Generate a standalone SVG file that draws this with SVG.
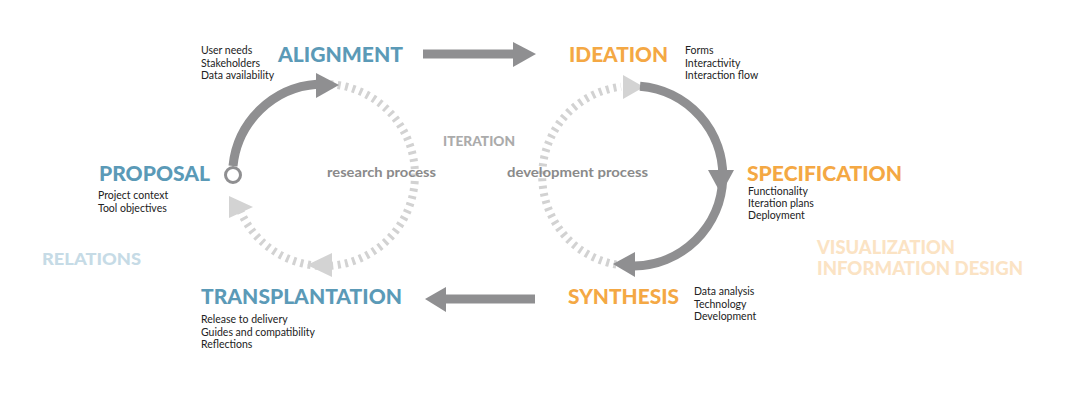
<svg xmlns="http://www.w3.org/2000/svg" width="1080" height="401" viewBox="0 0 1080 401">
<style>
.h{font-family:Lato,"Open Sans","Liberation Sans",sans-serif;font-weight:900;font-size:20px}
.blue{fill:#5b9ab7}
.orange{fill:#f4a844}
.s{font-family:Lato,"Open Sans","Liberation Sans",sans-serif;font-size:10.5px;fill:#222}
.p{font-family:Lato,"Open Sans","Liberation Sans",sans-serif;font-weight:700;font-size:13px;fill:#8a8a8a}
.solid{fill:none;stroke:#8f8f91;stroke-width:9}
.dot{fill:none;stroke:#d2d2d2;stroke-width:8;stroke-dasharray:3 4.5}
.ah{fill:#8f8f91}
.al{fill:#d3d3d3}
</style>
<rect width="1080" height="401" fill="#fff"/>
<g id="connectors">
  <rect x="423" y="49.5" width="92" height="9" class="ah"/>
  <polygon points="513,42 536,54 513,67" class="ah"/>
  <rect x="444" y="294.5" width="91" height="9" class="ah"/>
  <polygon points="446,287 425,299 446,312" class="ah"/>
  <path d="M330.3 84.2 A91 91 0 1 1 239.6 209.1" class="dot"/>
  <polygon points="307,265 332,253 332,277" class="al"/>
  <polygon points="229,196 229,218 253,207" class="al"/>
  <path d="M233 166 A91 91 0 0 1 317 84.3" class="solid"/>
  <polygon points="316,73 339,85 316,98" class="ah"/>
  <circle cx="233" cy="175" r="7.5" fill="#fff" stroke="#8f8f91" stroke-width="3"/>
  <path d="M616.4 264.6 A90 90 0 0 1 621 86.7" class="dot"/>
  <polygon points="623,75 644,87 623,99" class="al"/>
  <path d="M640 86.3 A90 90 0 0 1 634 266" class="solid"/>
  <polygon points="708,170 734,170 721,194" class="ah"/>
  <polygon points="613,264 635,252 635,277" class="ah"/>
</g>
<g id="alignment">
  <text x="278" y="62" class="h blue" textLength="125" lengthAdjust="spacingAndGlyphs">ALIGNMENT</text>
  <text class="s"><tspan x="201" y="54">User needs</tspan><tspan x="201" y="67">Stakeholders</tspan><tspan x="201" y="79">Data availability</tspan></text>
</g>
<g id="ideation">
  <text x="569" y="62" class="h orange" textLength="99" lengthAdjust="spacingAndGlyphs">IDEATION</text>
  <text class="s"><tspan x="685" y="54">Forms</tspan><tspan x="685" y="67">Interactivity</tspan><tspan x="685" y="79">Interaction flow</tspan></text>
</g>
<g id="proposal">
  <text x="99" y="181" class="h blue" textLength="111" lengthAdjust="spacingAndGlyphs">PROPOSAL</text>
  <text class="s"><tspan x="98" y="199">Project context</tspan><tspan x="98" y="212">Tool objectives</tspan></text>
</g>
<g id="specification">
  <text x="747" y="181" class="h orange" textLength="155" lengthAdjust="spacingAndGlyphs">SPECIFICATION</text>
  <text class="s"><tspan x="748" y="195">Functionality</tspan><tspan x="748" y="207">Iteration plans</tspan><tspan x="748" y="219">Deployment</tspan></text>
</g>
<g id="transplantation">
  <text x="201" y="304" class="h blue" textLength="201" lengthAdjust="spacingAndGlyphs">TRANSPLANTATION</text>
  <text class="s"><tspan x="201" y="323">Release to delivery</tspan><tspan x="201" y="336">Guides and compatibility</tspan><tspan x="201" y="348">Reflections</tspan></text>
</g>
<g id="synthesis">
  <text x="568" y="304" class="h orange" textLength="111" lengthAdjust="spacingAndGlyphs">SYNTHESIS</text>
  <text class="s"><tspan x="694" y="295">Data analysis</tspan><tspan x="694" y="308">Technology</tspan><tspan x="694" y="320">Development</tspan></text>
</g>
<g id="labels">
  <text x="443" y="146" font-family="Lato,'Open Sans','Liberation Sans',sans-serif" font-weight="900" font-size="14" fill="#ababab" textLength="72" lengthAdjust="spacingAndGlyphs">ITERATION</text>
  <text x="327" y="177" class="p" textLength="109" lengthAdjust="spacingAndGlyphs">research process</text>
  <text x="507" y="177" class="p" textLength="141" lengthAdjust="spacingAndGlyphs">development process</text>
  <text x="42" y="265" font-family="Lato,'Open Sans','Liberation Sans',sans-serif" font-weight="900" font-size="17" fill="#c6dbe6" textLength="99" lengthAdjust="spacingAndGlyphs">RELATIONS</text>
  <text font-family="Lato,'Open Sans','Liberation Sans',sans-serif" font-weight="900" font-size="18" fill="#fbe3c4"><tspan x="817" y="254" textLength="138" lengthAdjust="spacingAndGlyphs">VISUALIZATION</tspan><tspan x="817" y="275" textLength="206" lengthAdjust="spacingAndGlyphs">INFORMATION DESIGN</tspan></text>
</g>
</svg>
